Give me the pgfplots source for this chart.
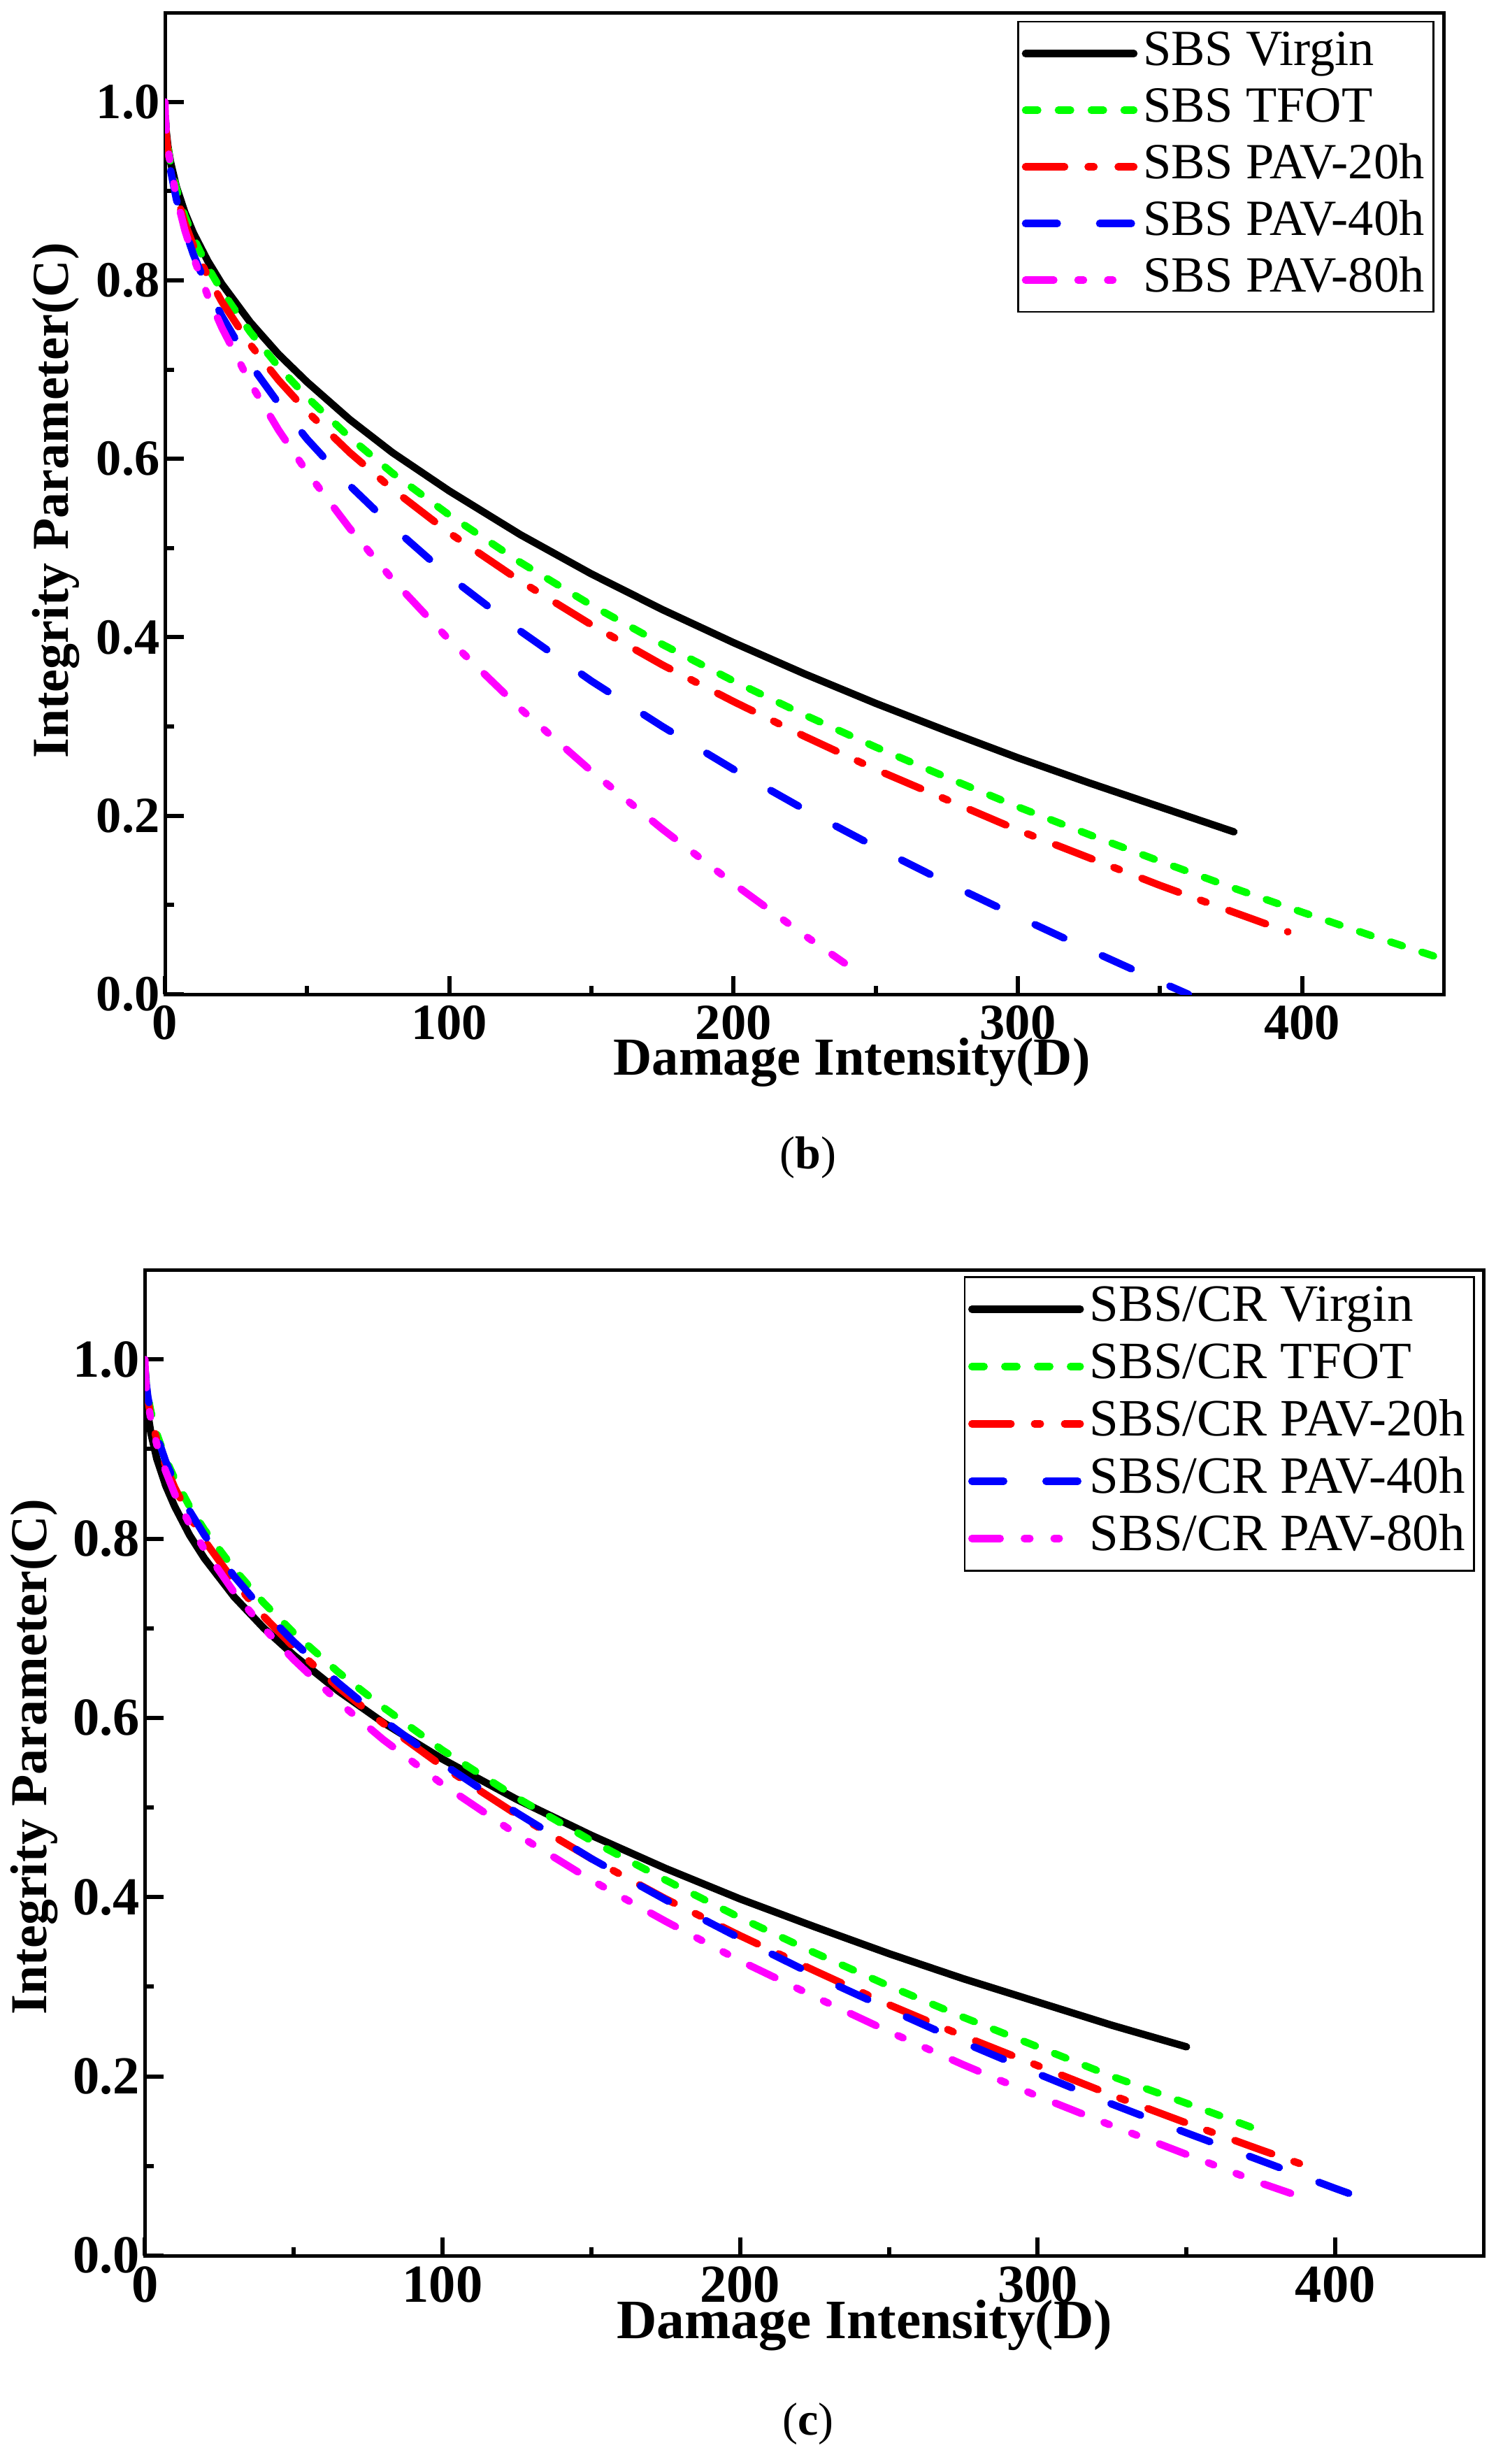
\documentclass[border=0pt]{standalone}
\usepackage{fontspec}
\setmainfont{Liberation Serif}
\usepackage{pgfplots}
\pgfplotsset{compat=1.18}
\definecolor{cgreen}{RGB}{0,255,0}
\definecolor{cred}{RGB}{255,0,0}
\definecolor{cblue}{RGB}{0,0,255}
\definecolor{cmag}{RGB}{255,0,255}
\pgfplotsset{
  myaxis/.style={
    scale only axis,
    xmin=0, xmax=450, ymin=0, ymax=1.1,
    xtick={0,100,200,300,400},
    ytick={0,0.2,0.4,0.6,0.8,1.0},
    minor x tick num=1, minor y tick num=1,
    xtick pos=left, ytick pos=left,
    tick align=inside,
    major tick length=5.3pt, minor tick length=2.5pt,
    every tick/.append style={black, line width=1.2pt},
    axis line style={line width=1pt},
    /pgf/number format/assume math mode=true,
    yticklabel style={/pgf/number format/fixed, /pgf/number format/fixed zerofill, /pgf/number format/precision=1, inner sep=0pt, xshift=-1.3pt},
    xticklabel style={inner sep=0pt, yshift=-3pt},
    legend cell align=left,
    legend image code/.code={\draw[##1] (0pt,0pt) -- (31pt,0pt);},
  },
  cv/.style={black, line width=2.1pt, line cap=round, line join=round},
  ct/.style={cgreen, line width=2.1pt, line cap=round, line join=round, dash pattern=on 3.5pt off 5.9pt},
  c20/.style={cred, line width=2.1pt, line cap=round, line join=round, dash pattern=on 11.2pt off 6.7pt on 1.7pt off 6.9pt},
  c40/.style={cblue, line width=2.1pt, line cap=round, line join=round, dash pattern=on 9.1pt off 12.1pt},
  c80/.style={cmag, line width=2.1pt, line cap=round, line join=round, dash pattern=on 8.1pt off 6.9pt on 1.6pt off 6.9pt on 1.5pt off 7pt},
}
\begin{document}
\begin{tikzpicture}
\path[use as bounding box] (0pt,0pt) rectangle (430pt,-704.8pt);
% ---------------- (b) ----------------
\begin{axis}[myaxis,
  at={(47.2pt,-3.6pt)}, anchor=north west,
  width=366pt, height=280.8pt,
  ticklabel style={font=\bfseries\fontsize{14.5}{14.5}\selectfont},
  xlabel={Damage Intensity(D)},
  ylabel={Integrity Parameter(C)},
  xlabel style={font=\bfseries\fontsize{15.3}{15.3}\selectfont, at={(axis description cs:0.537,-0.0826)}, anchor=base},
  ylabel style={font=\bfseries\fontsize{14.8}{14.8}\selectfont, at={(axis description cs:-0.0855,0.503)}, anchor=center},
  legend style={at={(rel axis cs:0.9923,0.9915)}, anchor=north east, draw=black, line width=0.5pt, fill=white,
    inner xsep=1pt, inner ysep=1pt, row sep=0pt, column sep=0pt,
    font=\fontsize{14.5}{16}\selectfont,
    nodes={text height=10.2pt, text depth=3.4pt, inner ysep=1.3pt, inner xsep=1.6pt}},
]
\addplot[cv] coordinates {(0.1,0.984)(0.4,0.968)(1,0.951)(2,0.932)(4,0.905)(7,0.876)(10,0.853)(15,0.822)(20,0.796)(30,0.753)(40,0.717)(50,0.686)(65,0.644)(80,0.607)(100,0.564)(125,0.515)(150,0.471)(175,0.431)(200,0.394)(225,0.359)(250,0.326)(275,0.295)(300,0.265)(325,0.237)(350,0.210)(376,0.182)};
\addlegendentry{SBS Virgin}
\addplot[ct] coordinates {(0.1,0.984)(0.4,0.968)(1,0.950)(2,0.930)(4,0.903)(7,0.872)(10,0.848)(15,0.815)(20,0.788)(30,0.742)(40,0.703)(50,0.669)(65,0.624)(80,0.584)(100,0.537)(125,0.484)(150,0.436)(175,0.392)(200,0.351)(225,0.313)(250,0.277)(275,0.243)(300,0.210)(325,0.179)(350,0.149)(375,0.120)(400,0.092)(425,0.065)(450,0.039)};
\addlegendentry{SBS TFOT}
\addplot[c20] coordinates {(0.1,0.982)(0.4,0.965)(1,0.946)(2,0.925)(4,0.896)(7,0.864)(10,0.839)(15,0.805)(20,0.776)(30,0.728)(40,0.688)(50,0.653)(65,0.607)(80,0.566)(100,0.517)(125,0.463)(150,0.414)(175,0.369)(200,0.328)(225,0.289)(250,0.252)(275,0.218)(300,0.184)(325,0.153)(350,0.122)(375,0.093)(395,0.070)};
\addlegendentry{SBS PAV-20h}
\addlegendimage{c40}
\addlegendentry{SBS PAV-40h}
\addplot[c40, dash phase=6pt, forget plot] coordinates {(0.1,0.982)(0.4,0.965)(1,0.945)(2,0.923)(4,0.891)(7,0.857)(10,0.829)(15,0.791)(20,0.760)(30,0.706)(40,0.662)(50,0.622)(65,0.570)(80,0.524)(100,0.468)(125,0.407)(150,0.351)(175,0.300)(200,0.252)(225,0.207)(250,0.165)(275,0.125)(300,0.087)(325,0.050)(350,0.014)(360,0.000)};
\addplot[c80] coordinates {(0,1.0)(0.1,0.985)(0.4,0.969)(1,0.950)(2,0.927)(4,0.894)(7,0.856)(10,0.826)(15,0.783)(20,0.747)(30,0.685)(40,0.632)(50,0.585)(65,0.522)(80,0.465)(100,0.397)(125,0.320)(150,0.250)(175,0.185)(200,0.124)(225,0.066)(239,0.035)};
\addlegendentry{SBS PAV-80h}
\end{axis}
\node[font=\fontsize{13.2}{13.2}\selectfont] at (231.2pt,-331.2pt) {(\textbf{b})};
% ---------------- (c) ----------------
\begin{axis}[myaxis,
  at={(41.46pt,-363.2pt)}, anchor=north west,
  width=383.14pt, height=282pt,
  ticklabel style={font=\bfseries\fontsize{15.3}{15.3}\selectfont},
  xlabel={Damage Intensity(D)},
  ylabel={Integrity Parameter(C)},
  xlabel style={font=\bfseries\fontsize{15.9}{15.9}\selectfont, at={(axis description cs:0.5375,-0.0837)}, anchor=base},
  ylabel style={font=\bfseries\fontsize{14.8}{14.8}\selectfont, at={(axis description cs:-0.0824,0.506)}, anchor=center},
  legend style={at={(rel axis cs:0.9932,0.9936)}, anchor=north east, draw=black, line width=0.5pt, fill=white,
    inner xsep=1pt, inner ysep=1pt, row sep=0pt, column sep=0pt,
    font=\fontsize{15}{16}\selectfont,
    nodes={text height=10.5pt, text depth=3.5pt, inner ysep=1.2pt, inner xsep=1.6pt}},
]
\addplot[cv] coordinates {(0.1,0.978)(0.4,0.959)(1,0.939)(2,0.918)(4,0.889)(7,0.859)(10,0.836)(15,0.804)(20,0.778)(30,0.735)(40,0.700)(50,0.670)(65,0.630)(80,0.595)(100,0.554)(125,0.509)(150,0.469)(175,0.432)(200,0.398)(225,0.367)(250,0.337)(275,0.309)(300,0.283)(325,0.257)(350,0.233)};
\addlegendentry{SBS/CR Virgin}
\addplot[ct] coordinates {(0.1,0.988)(0.4,0.975)(1,0.959)(2,0.942)(4,0.917)(7,0.889)(10,0.867)(15,0.836)(20,0.810)(30,0.766)(40,0.728)(50,0.695)(65,0.651)(80,0.612)(100,0.564)(125,0.511)(150,0.463)(175,0.419)(200,0.377)(225,0.338)(250,0.301)(275,0.266)(300,0.233)(325,0.200)(350,0.170)(372,0.143)};
\addlegendentry{SBS/CR TFOT}
\addplot[c20] coordinates {(0.1,0.986)(0.4,0.972)(1,0.955)(2,0.936)(4,0.910)(7,0.881)(10,0.857)(15,0.825)(20,0.798)(30,0.752)(40,0.713)(50,0.679)(65,0.634)(80,0.594)(100,0.546)(125,0.492)(150,0.443)(175,0.398)(200,0.357)(225,0.318)(250,0.280)(275,0.245)(300,0.212)(325,0.179)(350,0.148)(375,0.118)(393,0.097)};
\addlegendentry{SBS/CR PAV-20h}
\addplot[c40] coordinates {(0.1,0.987)(0.4,0.974)(1,0.958)(2,0.940)(4,0.915)(7,0.886)(10,0.863)(15,0.831)(20,0.804)(30,0.758)(40,0.719)(50,0.685)(65,0.639)(80,0.598)(100,0.549)(125,0.494)(150,0.443)(175,0.397)(200,0.354)(225,0.313)(250,0.275)(275,0.238)(300,0.203)(325,0.169)(350,0.137)(375,0.106)(400,0.075)(410,0.063)};
\addlegendentry{SBS/CR PAV-40h}
\addplot[c80] coordinates {(0,1.0)(0.1,0.985)(0.4,0.970)(1,0.953)(2,0.933)(4,0.905)(7,0.875)(10,0.850)(15,0.816)(20,0.788)(30,0.740)(40,0.700)(50,0.665)(65,0.618)(80,0.576)(100,0.526)(125,0.470)(150,0.419)(175,0.373)(200,0.329)(225,0.289)(250,0.250)(275,0.213)(300,0.178)(325,0.145)(350,0.113)(375,0.081)(389,0.065)};
\addlegendentry{SBS/CR PAV-80h}
\end{axis}
\node[font=\fontsize{13.2}{13.2}\selectfont] at (231.2pt,-693.4pt) {(\textbf{c})};
\end{tikzpicture}
\end{document}
